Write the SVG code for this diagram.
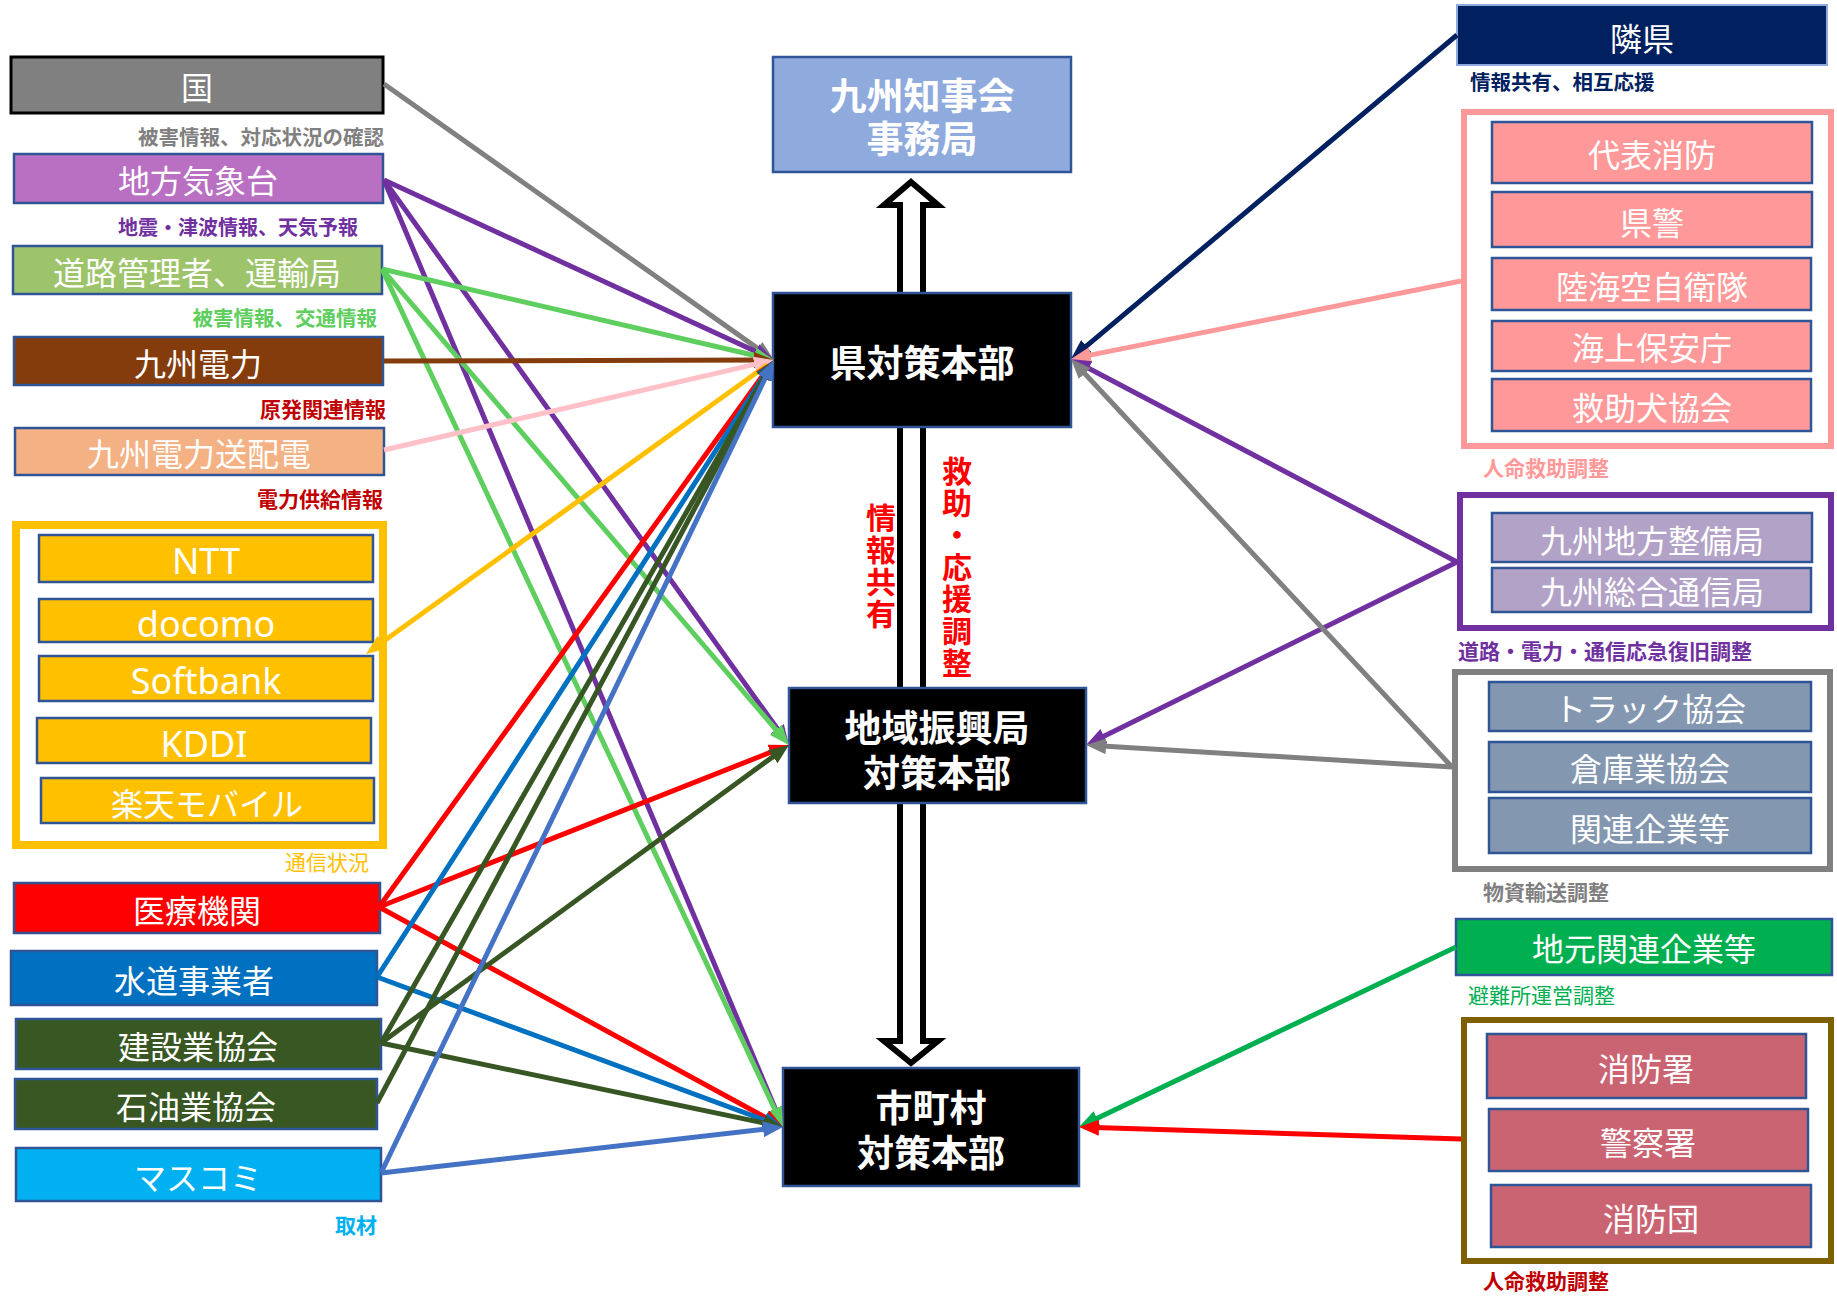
<svg xmlns="http://www.w3.org/2000/svg" width="1837" height="1296" viewBox="0 0 1837 1296">
  <style>
    .box { stroke: #2F5597; stroke-width: 2.5; }
    .grp { fill: #FFFFFF; }
    .bt { font-family: "Noto Sans CJK JP", "Noto Sans", sans-serif; font-size: 32px; fill: #FFFFFF; text-anchor: middle; }
    .lt { font-family: "Noto Sans", "Noto Sans CJK JP", sans-serif; font-size: 36px; fill: #FFFFFF; text-anchor: middle; }
    .hq { font-family: "Noto Sans CJK JP", sans-serif; font-size: 37px; font-weight: bold; fill: #FFFFFF; text-anchor: middle; }
    .lbl { font-family: "Noto Sans CJK JP", sans-serif; font-size: 21px; font-weight: bold; }
    .end { text-anchor: end; }
    .vt { font-family: "Noto Sans CJK JP", sans-serif; font-size: 30px; font-weight: bold; fill: #FF0000; writing-mode: vertical-rl; text-anchor: start; letter-spacing: 2px; }
    .ln { fill: none; stroke-width: 5; }
  </style>
  <defs>
    <marker id="a-gray" viewBox="0 0 10 8" refX="6" refY="4" markerWidth="4" markerHeight="3.2" orient="auto"><path d="M0,0 L10,4 L0,8 Z" fill="#808080"/></marker>
    <marker id="a-purple" viewBox="0 0 10 8" refX="6" refY="4" markerWidth="4" markerHeight="3.2" orient="auto"><path d="M0,0 L10,4 L0,8 Z" fill="#7030A0"/></marker>
    <marker id="a-lgreen" viewBox="0 0 10 8" refX="6" refY="4" markerWidth="4" markerHeight="3.2" orient="auto"><path d="M0,0 L10,4 L0,8 Z" fill="#5ECF5E"/></marker>
    <marker id="a-brown" viewBox="0 0 10 8" refX="6" refY="4" markerWidth="4" markerHeight="3.2" orient="auto"><path d="M0,0 L10,4 L0,8 Z" fill="#843C0C"/></marker>
    <marker id="a-lpink" viewBox="0 0 10 8" refX="6" refY="4" markerWidth="4" markerHeight="3.2" orient="auto"><path d="M0,0 L10,4 L0,8 Z" fill="#FFC0C8"/></marker>
    <marker id="a-yellow" viewBox="0 0 10 8" refX="6" refY="4" markerWidth="4" markerHeight="3.2" orient="auto"><path d="M0,0 L10,4 L0,8 Z" fill="#FFC000"/></marker>
    <marker id="a-red" viewBox="0 0 10 8" refX="6" refY="4" markerWidth="4" markerHeight="3.2" orient="auto"><path d="M0,0 L10,4 L0,8 Z" fill="#FF0000"/></marker>
    <marker id="a-blue" viewBox="0 0 10 8" refX="6" refY="4" markerWidth="4" markerHeight="3.2" orient="auto"><path d="M0,0 L10,4 L0,8 Z" fill="#0070C0"/></marker>
    <marker id="a-dgreen" viewBox="0 0 10 8" refX="6" refY="4" markerWidth="4" markerHeight="3.2" orient="auto"><path d="M0,0 L10,4 L0,8 Z" fill="#375623"/></marker>
    <marker id="a-mblue" viewBox="0 0 10 8" refX="6" refY="4" markerWidth="4" markerHeight="3.2" orient="auto"><path d="M0,0 L10,4 L0,8 Z" fill="#4472C4"/></marker>
    <marker id="a-navy" viewBox="0 0 10 8" refX="6" refY="4" markerWidth="4" markerHeight="3.2" orient="auto"><path d="M0,0 L10,4 L0,8 Z" fill="#002060"/></marker>
    <marker id="a-pink" viewBox="0 0 10 8" refX="6" refY="4" markerWidth="4" markerHeight="3.2" orient="auto"><path d="M0,0 L10,4 L0,8 Z" fill="#FF9999"/></marker>
    <marker id="a-green" viewBox="0 0 10 8" refX="6" refY="4" markerWidth="4" markerHeight="3.2" orient="auto"><path d="M0,0 L10,4 L0,8 Z" fill="#00B050"/></marker>
  </defs>

  <rect width="1837" height="1296" fill="#FFFFFF"/>

  <!-- hollow double-headed block arrow along the vertical axis -->
  <g id="axis-arrow">
    <path d="M911,182 L938,205 L923,205 L923,1041 L938,1041 L911,1063 L884,1041 L900,1041 L900,205 L884,205 Z" fill="#FFFFFF" stroke="#000000" stroke-width="6"/>
  </g>

  <!-- vertical captions beside the axis -->
  <g id="axis-labels">
    <text class="vt" x="881" y="503">情報共有</text>
    <text class="vt" x="957" y="456">救助・応援調整</text>
  </g>

  <!-- left column -->
  <g id="kuni">
    <rect x="11" y="57" width="372" height="56" fill="#808080" stroke="#000000" stroke-width="3"/>
    <text class="bt" x="197" y="100">国</text>
  </g>
  <text class="lbl end" x="384" y="145" fill="#808080" style="font-size:20.5px">被害情報、対応状況の確認</text>

  <g id="kishodai">
    <rect class="box" x="14" y="154" width="369" height="49" fill="#B970C2"/>
    <text class="bt" x="198" y="193">地方気象台</text>
  </g>
  <text class="lbl end" x="358" y="235" fill="#7030A0" style="font-size:20px">地震・津波情報、天気予報</text>

  <g id="doro">
    <rect class="box" x="13" y="246" width="369" height="48" fill="#9DC46B"/>
    <text class="bt" x="197" y="285">道路管理者、運輸局</text>
  </g>
  <text class="lbl end" x="377" y="326" fill="#5ECF5E" style="font-size:20.5px">被害情報、交通情報</text>

  <g id="denryoku">
    <rect class="box" x="14" y="337" width="369" height="48" fill="#843C0C"/>
    <text class="bt" x="198" y="376">九州電力</text>
  </g>
  <text class="lbl end" x="386" y="417" fill="#C00000">原発関連情報</text>

  <g id="sohaiden">
    <rect class="box" x="15" y="428" width="369" height="47" fill="#F4B183"/>
    <text class="bt" x="199" y="466">九州電力送配電</text>
  </g>
  <text class="lbl end" x="383" y="507" fill="#C00000">電力供給情報</text>

  <g id="tsushin-group">
    <rect x="16" y="525" width="367" height="320" fill="none" stroke="#FFC000" stroke-width="8"/>
    <g id="ntt">
      <rect class="box" x="39" y="535" width="334" height="47" fill="#FFC000"/>
      <text class="lt" x="206" y="574">NTT</text>
    </g>
    <g id="docomo">
      <rect class="box" x="39" y="599" width="334" height="43" fill="#FFC000"/>
      <text class="lt" x="206" y="637">docomo</text>
    </g>
    <g id="softbank">
      <rect class="box" x="39" y="656" width="334" height="45" fill="#FFC000"/>
      <text class="lt" x="206" y="694">Softbank</text>
    </g>
    <g id="kddi">
      <rect class="box" x="37" y="718" width="334" height="45" fill="#FFC000"/>
      <text class="lt" x="204" y="757">KDDI</text>
    </g>
    <g id="rakuten">
      <rect class="box" x="41" y="778" width="333" height="45" fill="#FFC000"/>
      <text class="bt" x="207" y="816">楽天モバイル</text>
    </g>
  </g>
  <text class="lbl end" x="369" y="870" fill="#FFC000" style="font-weight:normal">通信状況</text>

  <g id="iryo">
    <rect class="box" x="14" y="883" width="366" height="50" fill="#FF0000"/>
    <text class="bt" x="197" y="923">医療機関</text>
  </g>
  <g id="suido">
    <rect class="box" x="11" y="951" width="366" height="54" fill="#0070C0"/>
    <text class="bt" x="194" y="993">水道事業者</text>
  </g>
  <g id="kensetsu">
    <rect class="box" x="16" y="1019" width="365" height="50" fill="#385723"/>
    <text class="bt" x="198" y="1059">建設業協会</text>
  </g>
  <g id="sekiyu">
    <rect class="box" x="15" y="1079" width="362" height="50" fill="#385723"/>
    <text class="bt" x="196" y="1119">石油業協会</text>
  </g>
  <g id="masukomi">
    <rect class="box" x="16" y="1148" width="365" height="53" fill="#00B0F0"/>
    <text class="bt" x="198" y="1190">マスコミ</text>
  </g>
  <text class="lbl end" x="377" y="1233" fill="#00B0F0">取材</text>

  <!-- centre column -->
  <g id="chijikai">
    <rect class="box" x="773" y="57" width="298" height="115" fill="#8FAADC" stroke-width="2"/>
    <text class="hq" x="922" y="110">九州知事会<tspan x="922" dy="43">事務局</tspan></text>
  </g>
  <g id="ken-honbu">
    <rect class="box" x="773" y="293" width="298" height="134" fill="#000000"/>
    <text class="hq" x="922" y="377">県対策本部</text>
  </g>
  <g id="chiiki-honbu">
    <rect class="box" x="789" y="688" width="297" height="115" fill="#000000"/>
    <text class="hq" x="937" y="742">地域振興局<tspan x="937" dy="45">対策本部</tspan></text>
  </g>
  <g id="shichoson-honbu">
    <rect class="box" x="783" y="1068" width="296" height="118" fill="#000000"/>
    <text class="hq" x="931" y="1122">市町村<tspan x="931" dy="45">対策本部</tspan></text>
  </g>

  <!-- right column -->
  <g id="rinken">
    <rect x="1457" y="5" width="370" height="60" fill="#002060" stroke="#8EA9DB" stroke-width="2"/>
    <text class="bt" x="1642" y="51">隣県</text>
  </g>
  <text class="lbl" x="1470" y="90" fill="#002060" style="font-size:20.5px">情報共有、相互応援</text>

  <g id="kyujo-group">
    <rect class="grp" x="1464" y="112" width="367" height="334" stroke="#FF9999" stroke-width="6"/>
    <g id="daihyo-shobo">
      <rect class="box" x="1492" y="122" width="320" height="61" fill="#FF9999"/>
      <text class="bt" x="1652" y="167">代表消防</text>
    </g>
    <g id="kenkei">
      <rect class="box" x="1492" y="192" width="320" height="55" fill="#FF9999"/>
      <text class="bt" x="1652" y="235">県警</text>
    </g>
    <g id="jieitai">
      <rect class="box" x="1492" y="258" width="319" height="52" fill="#FF9999"/>
      <text class="bt" x="1652" y="299">陸海空自衛隊</text>
    </g>
    <g id="kaiho">
      <rect class="box" x="1492" y="321" width="319" height="50" fill="#FF9999"/>
      <text class="bt" x="1652" y="360">海上保安庁</text>
    </g>
    <g id="kyujoken">
      <rect class="box" x="1492" y="379" width="319" height="52" fill="#FF9999"/>
      <text class="bt" x="1652" y="420">救助犬協会</text>
    </g>
  </g>
  <text class="lbl" x="1483" y="476" fill="#FF9999">人命救助調整</text>

  <g id="fukkyu-group">
    <rect class="grp" x="1460" y="495" width="371" height="133" stroke="#7030A0" stroke-width="6"/>
    <g id="seibikyoku">
      <rect class="box" x="1492" y="513" width="320" height="49" fill="#B3A2C7"/>
      <text class="bt" x="1652" y="553">九州地方整備局</text>
    </g>
    <g id="tsushinkyoku">
      <rect class="box" x="1492" y="568" width="319" height="44" fill="#B3A2C7"/>
      <text class="bt" x="1652" y="604">九州総合通信局</text>
    </g>
  </g>
  <text class="lbl" x="1458" y="659" fill="#7030A0">道路・電力・通信応急復旧調整</text>

  <g id="yuso-group">
    <rect class="grp" x="1455" y="672" width="375" height="197" stroke="#808080" stroke-width="6"/>
    <g id="truck">
      <rect class="box" x="1489" y="682" width="322" height="49" fill="#8497B0"/>
      <text class="bt" x="1650" y="721">トラック協会</text>
    </g>
    <g id="soko">
      <rect class="box" x="1489" y="742" width="322" height="50" fill="#8497B0"/>
      <text class="bt" x="1650" y="781">倉庫業協会</text>
    </g>
    <g id="kanren">
      <rect class="box" x="1489" y="798" width="322" height="55" fill="#8497B0"/>
      <text class="bt" x="1650" y="841">関連企業等</text>
    </g>
  </g>
  <text class="lbl" x="1483" y="900" fill="#7F7F7F">物資輸送調整</text>

  <g id="jimoto">
    <rect class="box" x="1456" y="919" width="376" height="56" fill="#00B050"/>
    <text class="bt" x="1644" y="961">地元関連企業等</text>
  </g>
  <text class="lbl" x="1468" y="1003" fill="#00B050" style="font-weight:normal">避難所運営調整</text>

  <g id="chiiki-kyujo-group">
    <rect class="grp" x="1464" y="1020" width="367" height="241" stroke="#7F6000" stroke-width="6"/>
    <g id="shobosho">
      <rect class="box" x="1487" y="1034" width="319" height="64" fill="#CB6472"/>
      <text class="bt" x="1646" y="1081">消防署</text>
    </g>
    <g id="keisatsu">
      <rect class="box" x="1489" y="1109" width="319" height="62" fill="#CB6472"/>
      <text class="bt" x="1648" y="1155">警察署</text>
    </g>
    <g id="shobodan">
      <rect class="box" x="1491" y="1185" width="320" height="62" fill="#CB6472"/>
      <text class="bt" x="1651" y="1231">消防団</text>
    </g>
  </g>
  <text class="lbl" x="1483" y="1289" fill="#C00000">人命救助調整</text>

  <!-- connectors -->
  <g id="connectors">
    <line class="ln" x1="384" y1="84" x2="767.5" y2="355.4" stroke="#808080" marker-end="url(#a-gray)"/>

    <line class="ln" x1="384" y1="180" x2="766.7" y2="356.6" stroke="#7030A0" marker-end="url(#a-purple)"/>
    <line class="ln" x1="384" y1="180" x2="784.3" y2="738.5" stroke="#7030A0" marker-end="url(#a-purple)"/>
    <line class="ln" x1="384" y1="180" x2="779.9" y2="1119.6" stroke="#7030A0" marker-end="url(#a-purple)"/>

    <line class="ln" x1="382" y1="269" x2="766.2" y2="358.2" stroke="#5ECF5E" marker-end="url(#a-lgreen)"/>
    <line class="ln" x1="382" y1="269" x2="783.8" y2="738.9" stroke="#5ECF5E" marker-end="url(#a-lgreen)"/>
    <line class="ln" x1="382" y1="269" x2="779.6" y2="1119.8" stroke="#5ECF5E" marker-end="url(#a-lgreen)"/>

    <line class="ln" x1="384" y1="361" x2="766" y2="360" stroke="#843C0C" marker-end="url(#a-brown)"/>

    <line class="ln" x1="384" y1="450" x2="766.2" y2="361.8" stroke="#FFC0C8" marker-end="url(#a-lpink)"/>

    <line class="ln" x1="767.5" y1="364.7" x2="372.5" y2="649.3" stroke="#FFC000" marker-end="url(#a-yellow)"/>

    <line class="ln" x1="379" y1="907" x2="769.3" y2="366.5" stroke="#FF0000" marker-end="url(#a-red)"/>
    <line class="ln" x1="379" y1="907" x2="781.6" y2="747.9" stroke="#FF0000" marker-end="url(#a-red)"/>
    <line class="ln" x1="379" y1="907" x2="776" y2="1123.2" stroke="#FF0000" marker-end="url(#a-red)"/>

    <line class="ln" x1="377" y1="977" x2="769.7" y2="366.7" stroke="#0070C0" marker-end="url(#a-blue)"/>
    <line class="ln" x1="377" y1="977" x2="775.5" y2="1124.2" stroke="#0070C0" marker-end="url(#a-blue)"/>

    <line class="ln" x1="381" y1="1043" x2="770" y2="366.9" stroke="#375623" marker-end="url(#a-dgreen)"/>
    <line class="ln" x1="381" y1="1043" x2="782.5" y2="749.7" stroke="#375623" marker-end="url(#a-dgreen)"/>
    <line class="ln" x1="381" y1="1043" x2="775.2" y2="1125.4" stroke="#375623" marker-end="url(#a-dgreen)"/>
    <line class="ln" x1="377" y1="1103" x2="770.2" y2="367.1" stroke="#375623" marker-end="url(#a-dgreen)"/>

    <line class="ln" x1="381" y1="1173" x2="770.5" y2="367.2" stroke="#4472C4" marker-end="url(#a-mblue)"/>
    <line class="ln" x1="381" y1="1173" x2="775" y2="1127.9" stroke="#4472C4" marker-end="url(#a-mblue)"/>

    <line class="ln" x1="1457" y1="35" x2="1077.1" y2="353.9" stroke="#002060" marker-end="url(#a-navy)"/>
    <line class="ln" x1="1461" y1="281" x2="1078.8" y2="357.4" stroke="#FF9999" marker-end="url(#a-pink)"/>
    <line class="ln" x1="1457" y1="562" x2="1078.1" y2="362.7" stroke="#7030A0" marker-end="url(#a-purple)"/>
    <line class="ln" x1="1457" y1="562" x2="1093.2" y2="741.5" stroke="#7030A0" marker-end="url(#a-purple)"/>
    <line class="ln" x1="1452" y1="767" x2="1076.5" y2="364.8" stroke="#808080" marker-end="url(#a-gray)"/>
    <line class="ln" x1="1452" y1="767" x2="1094" y2="745.5" stroke="#808080" marker-end="url(#a-gray)"/>
    <line class="ln" x1="1456" y1="947" x2="1086.2" y2="1123.6" stroke="#00B050" marker-end="url(#a-green)"/>
    <line class="ln" x1="1461" y1="1139" x2="1087" y2="1127.3" stroke="#FF0000" marker-end="url(#a-red)"/>
  </g>
</svg>
